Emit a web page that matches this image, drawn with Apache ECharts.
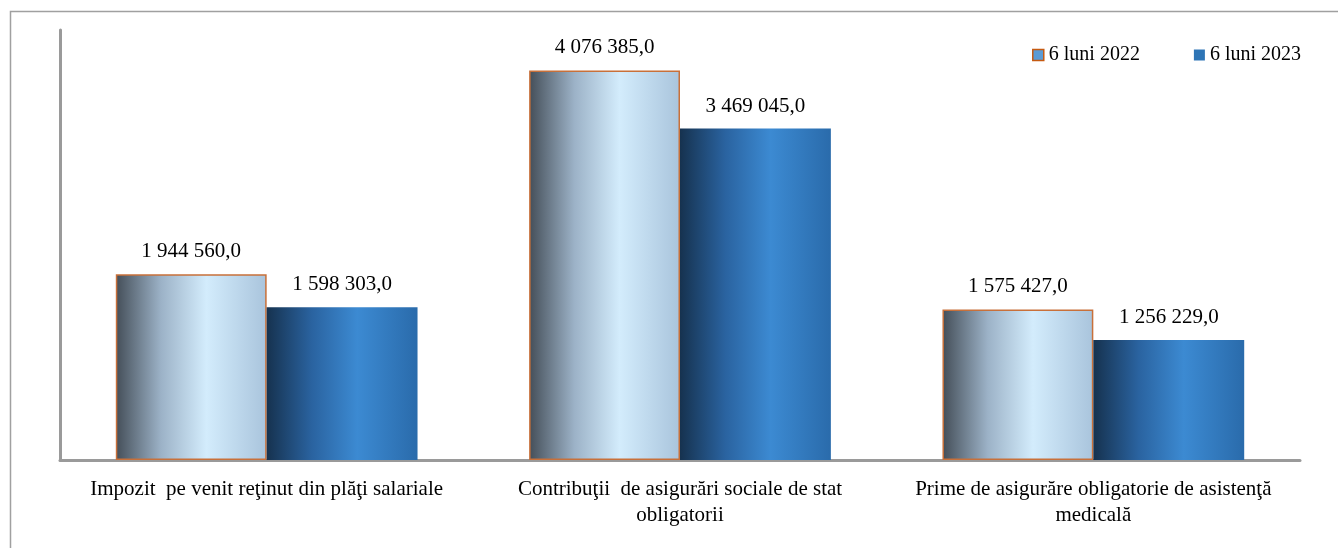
<!DOCTYPE html>
<html><head><meta charset="utf-8">
<script src="https://cdn.jsdelivr.net/npm/echarts@6/dist/echarts.min.js"></script>
<style>html,body{margin:0;padding:0;background:#fff}#c{width:1338px;height:548px}</style>
</head><body><div id="c"></div>
<script>
const categories = ['Impozit  pe venit reţinut din plăţi salariale', 'Contribuţii  de asigurări sociale de stat\nobligatorii', 'Prime de asigurăre obligatorie de asistenţă\nmedicală'];
const seriesNames = ['6 luni 2022', '6 luni 2023'];
const values2022 = [1944560.0, 4076385.0, 1575427.0];
const values2023 = [1598303.0, 3469045.0, 1256229.0];

function fmt(v){
  const s = Math.round(v).toString().replace(/\B(?=(\d{3})+(?!\d))/g, ' ');
  return s + ',0';
}
const font = '"Liberation Serif", "Times New Roman", serif';
const grad1 = new echarts.graphic.LinearGradient(0,0,1,0,[
  {offset:0,color:'#444e58'},{offset:0.3,color:'#9cb2c7'},{offset:0.6,color:'#d3ecfc'},{offset:1,color:'#a9c4dc'}]);
const grad2 = new echarts.graphic.LinearGradient(0,0,1,0,[
  {offset:0,color:'#16324f'},{offset:0.3,color:'#2a63a0'},{offset:0.6,color:'#3c8ad2'},{offset:1,color:'#2a6bab'}]);
const chart = echarts.init(document.getElementById('c'));
chart.setOption({
  animation:false,
  graphic:[{type:'rect',shape:{x:10.5,y:11.5,width:1400,height:600},style:{fill:'none',stroke:'#a0a0a0',lineWidth:1.5},silent:true,z:-1}],
  legend:{top:40,right:32,itemWidth:11,itemHeight:11,itemGap:54,icon:'rect',
    textStyle:{fontFamily:font,fontSize:20,color:'#000'},
    data:[{name:seriesNames[0],itemStyle:{color:'#5b9bd5',borderColor:'#c55a11',borderWidth:1.5}},
          {name:seriesNames[1],itemStyle:{color:'#2e75b6',borderWidth:0}}]},
  grid:{left:60,right:38,top:30,bottom:88},
  xAxis:{type:'category',data:categories,
    axisLine:{lineStyle:{color:'#9a9a9a',width:3}},axisTick:{show:false},
    axisLabel:{fontFamily:font,fontSize:21,color:'#000',margin:16,lineHeight:26,interval:0}},
  yAxis:{type:'value',min:0,max:4500000,
    axisLine:{show:true,lineStyle:{color:'#9a9a9a',width:3}},axisTick:{show:false},
    axisLabel:{show:false},splitLine:{show:false}},
  series:[
    {name:seriesNames[0],type:'bar',data:values2022,barGap:'0%',barCategoryGap:'27%',
      itemStyle:{color:grad1,borderColor:'#c8703a',borderWidth:1.5},
      label:{show:true,position:'top',distance:12,formatter:p=>fmt(p.value),fontFamily:font,fontSize:21,color:'#000'}},
    {name:seriesNames[1],type:'bar',data:values2023,
      itemStyle:{color:grad2},
      label:{show:true,position:'top',distance:12,formatter:p=>fmt(p.value),fontFamily:font,fontSize:21,color:'#000'}}
  ]
});
</script></body></html>
